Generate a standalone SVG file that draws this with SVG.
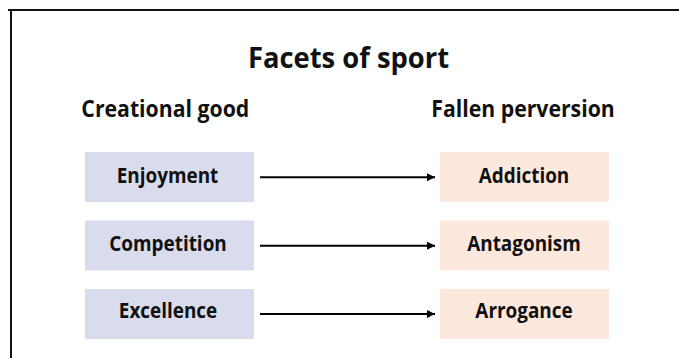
<svg xmlns="http://www.w3.org/2000/svg" width="679" height="358" viewBox="0 0 679 358">
  <style>
    text { font-family: "Open Sans", "Noto Sans", "Liberation Sans", sans-serif; font-weight: 700; fill: #111; text-anchor: middle; }
    .title { font-size: 28.5px; }
    .head { font-size: 24px; }
    .label { font-size: 22px; }
    .good { fill: #d9dced; }
    .fallen { fill: #fde8de; }
    .frame { stroke: #111; stroke-width: 2; fill: none; }
    .conn { stroke: #000; stroke-width: 2; fill: none; }
  </style>
  <defs>
    <marker id="arrow" viewBox="0 0 10 10" refX="10" refY="5" markerWidth="4" markerHeight="4" orient="auto" markerUnits="strokeWidth">
      <path d="M0,0 L10,5 L0,10 Z" fill="#000"/>
    </marker>
  </defs>
  <rect width="679" height="358" fill="#fff"/>
  <!-- frame: top and left rules only -->
  <path class="frame" d="M8,10 H679 M11,10 V358"/>

  <text class="title" transform="translate(348.5,68.3) scale(0.96,1)">Facets of sport</text>
  <text class="head" transform="translate(165.3,117.3) scale(0.885,1)">Creational good</text>
  <text class="head" transform="translate(523,117.3) scale(0.885,1)">Fallen perversion</text>

  <g id="enjoyment"><rect class="good" x="85" y="152" width="169" height="50"/><text class="label" transform="translate(167.5,182.7) scale(0.86,1)">Enjoyment</text></g>
  <g id="competition"><rect class="good" x="85" y="220.5" width="169" height="50"/><text class="label" transform="translate(168,251) scale(0.86,1)">Competition</text></g>
  <g id="excellence"><rect class="good" x="85" y="289" width="169" height="50"/><text class="label" transform="translate(168,318.3) scale(0.86,1)">Excellence</text></g>

  <g id="addiction"><rect class="fallen" x="440" y="152" width="169" height="50"/><text class="label" transform="translate(524,182.7) scale(0.86,1)">Addiction</text></g>
  <g id="antagonism"><rect class="fallen" x="440" y="220.5" width="169" height="50"/><text class="label" transform="translate(524,251) scale(0.86,1)">Antagonism</text></g>
  <g id="arrogance"><rect class="fallen" x="440" y="289" width="169" height="50"/><text class="label" transform="translate(524,318.3) scale(0.86,1)">Arrogance</text></g>

  <g id="connectors">
    <line class="conn" x1="260" y1="177.3" x2="435" y2="177.3" marker-end="url(#arrow)"/>
    <line class="conn" x1="260" y1="245.7" x2="435" y2="245.7" marker-end="url(#arrow)"/>
    <line class="conn" x1="260" y1="314" x2="435" y2="314" marker-end="url(#arrow)"/>
  </g>
</svg>
